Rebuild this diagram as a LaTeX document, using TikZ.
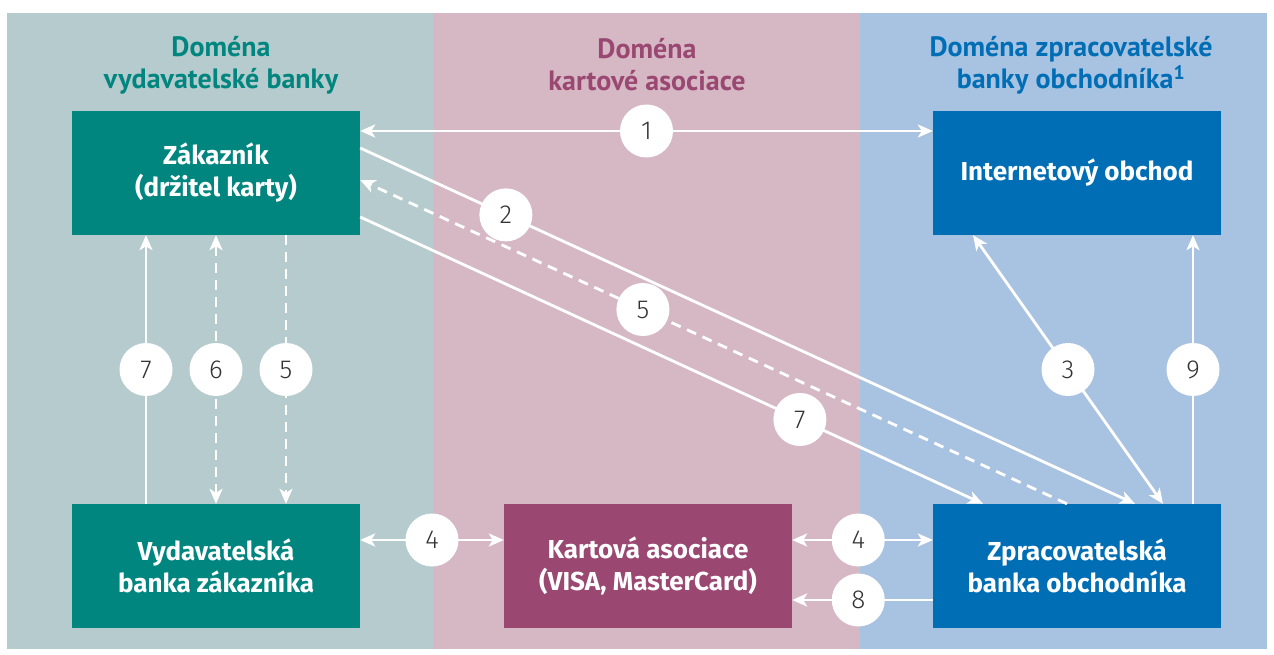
\documentclass[tikz,border=0pt]{standalone}
\usepackage{fontspec}
\setmainfont{Fira Sans}
\newfontfamily\hdrfont{PT Sans}
\newfontfamily\numfont{Fira Sans}[UprightFont=* Light]
\usetikzlibrary{arrows.meta}
\definecolor{tealbg}{HTML}{B5CBCE}
\definecolor{rosebg}{HTML}{D6B8C4}
\definecolor{bluebg}{HTML}{A8C2E1}
\definecolor{tealbox}{HTML}{00857F}
\definecolor{rosebox}{HTML}{9A4772}
\definecolor{bluebox}{HTML}{006EB5}
\definecolor{numtxt}{HTML}{333333}
\begin{document}
\begin{tikzpicture}[x=1pt,y=-1pt,
  box/.style={minimum width=288pt, minimum height=124pt, inner sep=0pt, text=white,
    font=\fontsize{26}{32}\selectfont\bfseries, align=center},
  hdr/.style={font=\hdrfont\fontsize{28}{32}\selectfont\bfseries, align=center},
  num/.style={circle, fill=white, minimum size=53pt, inner sep=0pt, text=numtxt,
    font=\numfont\fontsize{26}{26}\selectfont},
  conn/.style={draw=white, line width=2.8pt},
  dashline/.style={dash pattern=on 10pt off 7pt},
  tipend/.style={-{Stealth[length=15pt,width=13pt,inset=4pt]}},
  tipboth/.style={{Stealth[length=15pt,width=13pt,inset=4pt]}-{Stealth[length=15pt,width=13pt,inset=4pt]}}
]
\useasboundingbox (0,0) rectangle (1274,655);
\fill[white] (0,0) rectangle (1274,655);
% panels
\fill[tealbg] (7,13) rectangle (433,649);
\fill[rosebg] (433,13) rectangle (860,649);
\fill[bluebg] (860,13) rectangle (1267,649);
% headers
\node[hdr, text=tealbox] (h1) at (221,65) {Doména\\vydavatelské banky};
\node[hdr, text=rosebox] (h2) at (647,65) {Doména\\kartové asociace};
\node[hdr, text=bluebox] (h3) at (1071,65) {Doména zpracovatelské\\banky obchodníka\textsuperscript{1}};
% boxes
\node[box, fill=tealbox] (zak) at (216,173) {Zákazník\\(držitel karty)};
\node[box, fill=bluebox] (int) at (1077,173) {Internetový obchod};
\node[box, fill=tealbox] (vyd) at (216,566) {Vydavatelská\\banka zákazníka};
\node[box, fill=rosebox] (kart) at (648,566) {Kartová asociace\\(VISA, MasterCard)};
\node[box, fill=bluebox] (zpr) at (1077,566) {Zpracovatelská\\banka obchodníka};
% diagonal connectors
\draw[conn, tipend] (zak.east |- 0,148) -- (zpr.north -| 1135,0)
  node[num, pos=0.188] (n2) {2};
\draw[conn, dashline, tipend] (zpr.north -| 1067,0) -- (zak.east |- 0,180)
  node[num, pos=0.60] (n5d) {5};
\draw[conn, tipend] (zak.east |- 0,217) -- (zpr.north -| 983,0)
  node[num, pos=0.706] (n7d) {7};
% horizontal connectors
\draw[conn, tipboth] (zak.east |- 0,131) -- (int.west |- 0,131)
  node[num, pos=0.5] (n1) {1};
\draw[conn, tipboth] (vyd.east |- 0,540) -- (kart.west |- 0,540)
  node[num, pos=0.5] (n4a) {4};
\draw[conn, tipboth] (kart.east |- 0,540) -- (zpr.west |- 0,540)
  node[num, pos=0.47] (n4b) {4};
\draw[conn, tipend] (zpr.west |- 0,600) -- (kart.east |- 0,600)
  node[num, pos=0.53] (n8) {8};
% right connectors
\draw[conn, tipboth] (zpr.north -| 1163,0) -- (int.south -| 973,0)
  node[num, pos=0.5] (n3) {3};
\draw[conn, tipend] (zpr.north -| 1193,0) -- (int.south -| 1193,0)
  node[num, pos=0.5] (n9) {9};
% left connectors
\draw[conn, tipend] (vyd.north -| 146,0) -- (zak.south -| 146,0)
  node[num, pos=0.5] (n7) {7};
\draw[conn, dashline, tipboth] (vyd.north -| 216,0) -- (zak.south -| 216,0)
  node[num, pos=0.5] (n6) {6};
\draw[conn, dashline, tipend] (zak.south -| 286,0) -- (vyd.north -| 286,0)
  node[num, pos=0.5] (n5) {5};
\end{tikzpicture}
\end{document}
